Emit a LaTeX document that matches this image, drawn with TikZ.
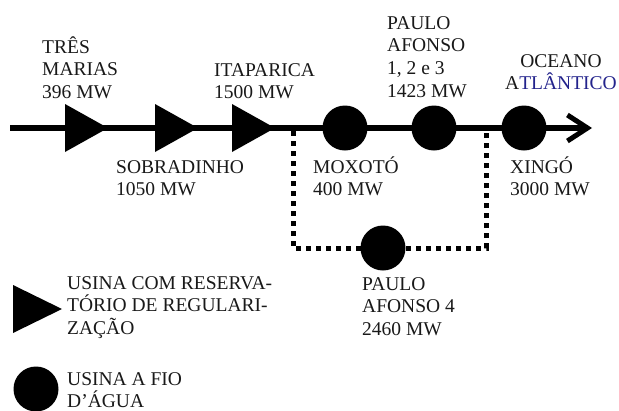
\documentclass[tikz,border=0pt]{standalone}
\usepackage{fontspec}
\setmainfont{Liberation Serif}
\usetikzlibrary{arrows.meta}
\definecolor{oceanblue}{RGB}{35,35,140}
\newcommand\stk[1]{\vtop{\baselineskip=22.7pt\lineskiplimit=-20pt\halign{##\hfil\cr#1\crcr}}}
\newcommand\stkc[1]{\vtop{\baselineskip=22.7pt\lineskiplimit=-20pt\halign{\hfil##\hfil\cr#1\crcr}}}
\begin{document}
\begin{tikzpicture}[x=1pt,y=-1pt,
  lbl/.style={anchor=base west, inner sep=0pt, font=\fontsize{19.5}{22.7}\selectfont, text=black!90},
  plant/.style={circle, fill=black, minimum size=45pt, inner sep=0pt},
  river/.style={line width=6.5pt},
  dotline/.style={line width=5pt, dash pattern=on 5pt off 5pt},
  resv/.style={fill=black}]
\useasboundingbox[fill=white] (0,0) rectangle (619,410);
% main river
\coordinate (src) at (10,128);
\coordinate (sea) at (592,128);
\draw[river, -{Straight Barb[length=20pt,width=26pt,line width=5pt]}] (src) -- (sea);
% reservoir plants (triangles), base centre
\coordinate (tm) at (65,128);
\coordinate (sob) at (155,128);
\coordinate (ita) at (232,128);
\foreach \p in {tm,sob,ita}
  \fill[resv] (\p) ++(0,-24) -- ++(43,24) -- ++(-43,24) -- cycle;
% dotted bypass
\coordinate (bl) at (293,131);
\coordinate (br) at (486,131);
\coordinate (c4) at (383,248);
\draw[dotline] (bl) |- (c4) -| (br);
% run-of-river plants
\node[plant] (mox) at (345,128) {};
\node[plant] (pa) at (434,128) {};
\node[plant] (xin) at (524,128) {};
\node[plant] (pa4) at (c4) {};
% labels
\node[lbl] (ltm) at (42,53) {\stk{TRÊS\cr MARIAS\cr 396 MW}};
\node[lbl] (lita) at (214,76) {\stk{ITAPARICA\cr 1500 MW}};
\node[lbl] (lsob) at (116,173) {\stk{SOBRADINHO\cr 1050 MW}};
\node[lbl] (lpa) at (387,29) {\stk{PAULO\cr AFONSO\cr 1, 2 e 3\cr 1423 MW}};
\node[lbl, anchor=base] (locean) at (561,67) {\stkc{OCEANO\cr A\textcolor{oceanblue}{TLÂNTICO}}};
\node[lbl] (lmox) at (313,173) {\stk{MOXOTÓ\cr 400 MW}};
\node[lbl] (lxin) at (510,173) {\stk{XINGÓ\cr 3000 MW}};
\node[lbl] (lpa4) at (362,290) {\stk{PAULO\cr AFONSO 4\cr 2460 MW}};
% legend
\coordinate (legt) at (13,309);
\fill[resv] (legt) ++(0,-24) -- ++(49,24) -- ++(-49,24) -- cycle;
\node[lbl] (ll1) at (67,289) {\stk{USINA COM RESERVA-\cr TÓRIO DE REGULARI-\cr ZAÇÃO}};
\node[plant] (legc) at (36,389) {};
\node[lbl] (ll2) at (67,385) {\stk{USINA A FIO\cr D’ÁGUA}};
\end{tikzpicture}
\end{document}
